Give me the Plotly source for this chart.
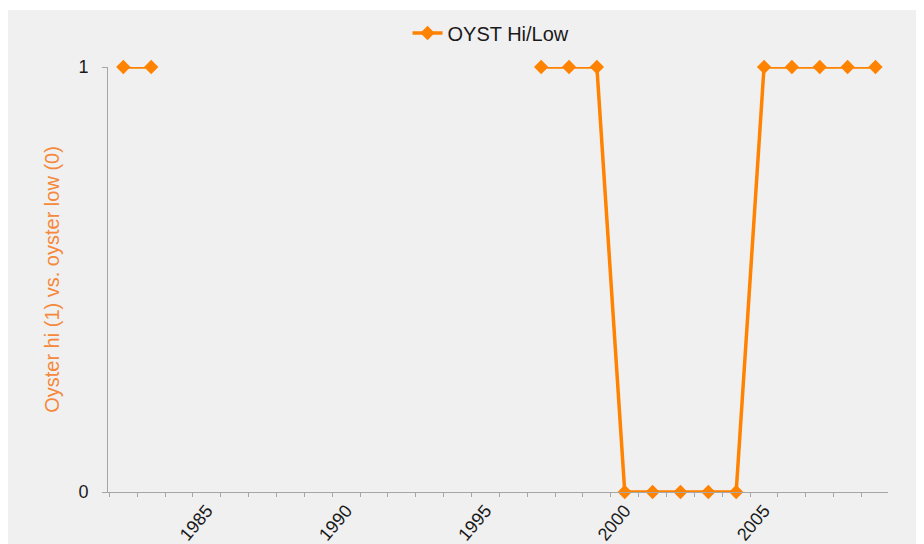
import plotly.graph_objects as go

years = list(range(1982, 2010))
# None = no survey that year (gap in the line)
oyst_hi_low = [1, 1, None, None, None, None, None, None, None, None, None, None, None, None, None,
               1, 1, 1, 0, 0, 0, 0, 0, 1, 1, 1, 1, 1]
tick_years = [1985, 1990, 1995, 2000, 2005]

orange = '#FF8200'
font_family = 'Liberation Sans, Arial, sans-serif'

fig = go.Figure()
fig.add_scatter(x=years,
                y=oyst_hi_low,
                mode='lines+markers',
                name='OYST Hi/Low',
                line=dict(color=orange, width=3.5),
                marker=dict(symbol='diamond', size=11, color=orange),
                connectgaps=False,
                cliponaxis=False)

# grey picture background (leaves a thin white strip at the top)
fig.add_shape(type='rect', xref='paper', yref='paper',
              x0=-0.13, x1=1.06, y0=-0.15, y1=1.134,
              fillcolor='#f0f0f0', line_width=0, layer='below')

fig.update_layout(width=924, height=544,
                  margin=dict(l=100, r=44, t=59, b=60, autoexpand=False),
                  paper_bgcolor='white',
                  plot_bgcolor='rgba(0,0,0,0)',
                  font=dict(family=font_family, size=18, color='#1a1a1a'),
                  showlegend=True,
                  legend=dict(orientation='h', x=0.384, xanchor='left',
                              y=1.08, yanchor='middle',
                              bgcolor='rgba(0,0,0,0)',
                              font=dict(size=20, color='#1a1a1a')),
                  xaxis=dict(range=[1981.45, 2009.45],
                             tickvals=tick_years,
                             ticktext=[str(y) for y in tick_years],
                             tickangle=-50,
                             ticks='',
                             showgrid=False,
                             zeroline=False,
                             showline=True, linecolor='#a6a6a6', linewidth=1,
                             minor=dict(ticks='outside', tick0=1981.5, dtick=1,
                                        ticklen=4, tickcolor='#a6a6a6', showgrid=False),
                             tickfont=dict(size=18)),
                  yaxis=dict(range=[0, 1],
                             tickvals=[0, 1],
                             ticks='outside', ticklen=5, tickcolor='#a6a6a6',
                             showgrid=True, gridcolor='#a6a6a6', gridwidth=1,
                             zeroline=False,
                             showline=True, linecolor='#a6a6a6', linewidth=1,
                             ticklabelstandoff=10,
                             title=dict(text='Oyster hi (1) vs. oyster low (0)',
                                        font=dict(color='#F5883A', size=20),
                                        standoff=13),
                             tickfont=dict(size=18)))

fig.write_html('out.html')
